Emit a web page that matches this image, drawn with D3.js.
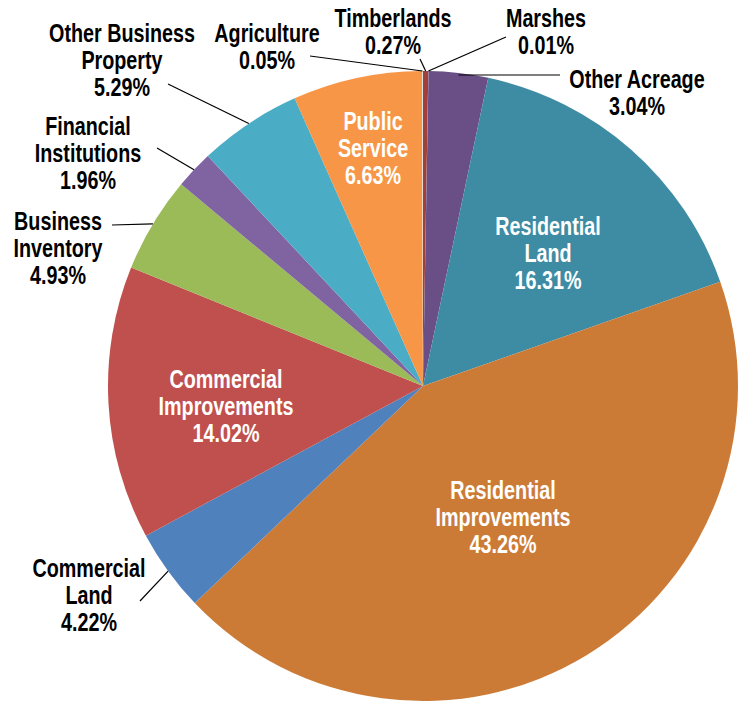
<!DOCTYPE html>
<html>
<head>
<meta charset="utf-8">
<script src="https://cdn.jsdelivr.net/npm/d3@7"></script>
<style>
  html, body { margin: 0; padding: 0; background: #ffffff; }
  svg { display: block; }
  text { font-family: 'Liberation Sans', Arial, sans-serif; font-weight: bold; font-size: 25px; }
</style>
</head>
<body>
<div id="chart"></div>
<script>
// ---- data ----
const categories = [
  "Timberlands", "Marshes", "Other Acreage", "Residential Land",
  "Residential Improvements", "Commercial Land", "Commercial Improvements",
  "Business Inventory", "Financial Institutions", "Other Business Property",
  "Public Service", "Agriculture"
];
const values = [0.27, 0.01, 3.04, 16.31, 43.26, 4.22, 14.02, 4.93, 1.96, 5.29, 6.63, 0.05];
const valueLabels = ["0.27%", "0.01%", "3.04%", "16.31%", "43.26%", "4.22%", "14.02%", "4.93%", "1.96%", "5.29%", "6.63%", "0.05%"];
// label lines (category name wrapped as in the original)
const nameLines = [
  ["Timberlands"], ["Marshes"], ["Other Acreage"], ["Residential", "Land"],
  ["Residential", "Improvements"], ["Commercial", "Land"], ["Commercial", "Improvements"],
  ["Business", "Inventory"], ["Financial", "Institutions"], ["Other Business", "Property"],
  ["Public", "Service"], ["Agriculture"]
];

// ---- styles / layout ----
const colors = ["#a0403a", "#c7a3a0", "#6a4f87", "#3e8ca4", "#cc7b37", "#4f81bd",
                "#c0504d", "#9bbb59", "#8064a2", "#4bacc6", "#f79646", "#e0e0e0"];
const inside = [false, false, false, true, true, false, true, false, false, false, true, false];
// text block: [center x, first baseline y]
const labelPos = [
  [393, 27], [546, 27], [637, 88], [548, 235],
  [503, 499], [89, 577], [226, 388],
  [58, 230], [88, 135], [122, 42],
  [373, 130], [267, 42]
];
// outer end of leader lines
const leaderStart = [
  [420, 59], [506, 37], [560, 75], null,
  null, [140, 601], null,
  [112, 225], [157, 148], [168, 84],
  null, [310, 56]
];
const lineHeight = 27;
const condense = 0.79;

const W = 746, H = 702;
const cx = 423, cy = 386, R = 315;

const svg = d3.select("#chart").append("svg").attr("width", W).attr("height", H);
const g = svg.append("g").attr("transform", `translate(${cx},${cy})`);

const data = categories.map((c, i) => ({ name: c, value: values[i], i }));
const pie = d3.pie().value(d => d.value).sort(null).startAngle(0).endAngle(2 * Math.PI);
const arcs = pie(data);
const arc = d3.arc().innerRadius(0).outerRadius(R);
const edgeArc = d3.arc().innerRadius(R).outerRadius(R);

g.selectAll("path.slice").data(arcs).enter().append("path")
  .attr("class", "slice")
  .attr("d", arc)
  .attr("fill", d => colors[d.data.i]);

// Leader lines
const leaders = arcs.filter(d => leaderStart[d.data.i]);
svg.selectAll("line.leader").data(leaders).enter().append("line")
  .attr("class", "leader")
  .attr("x1", d => leaderStart[d.data.i][0])
  .attr("y1", d => leaderStart[d.data.i][1])
  .attr("x2", d => cx + edgeArc.centroid(d)[0])
  .attr("y2", d => d.data.name === "Other Acreage" ? leaderStart[d.data.i][1] : cy + edgeArc.centroid(d)[1])
  .attr("stroke", "#000")
  .attr("stroke-width", 1.2);

// Labels
arcs.forEach(d => {
  const i = d.data.i;
  const lines = nameLines[i].concat([valueLabels[i]]);
  const t = svg.append("text")
    .attr("text-anchor", "middle")
    .attr("transform", `translate(${labelPos[i][0]},${labelPos[i][1]}) scale(${condense},1)`)
    .attr("fill", inside[i] ? "#ffffff" : "#000000");
  lines.forEach((ln, k) => {
    t.append("tspan")
      .attr("x", 0)
      .attr("y", k * lineHeight)
      .text(ln);
  });
});
</script>
</body>
</html>
